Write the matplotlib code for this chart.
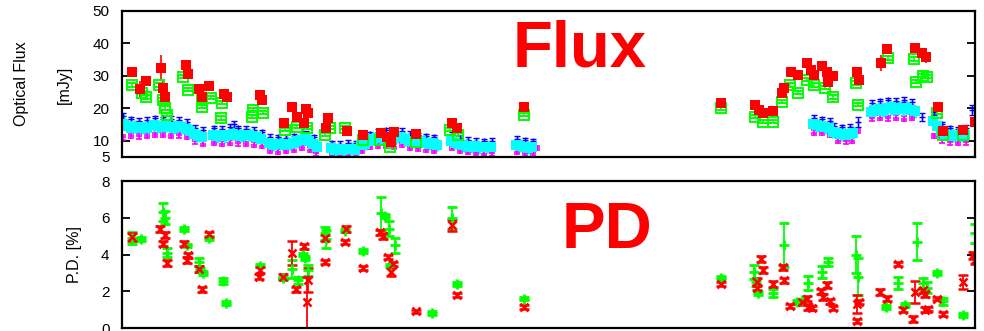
import matplotlib
matplotlib.use("Agg")
import matplotlib.pyplot as plt
import numpy as np

plt.rcParams['font.family'] = ['Liberation Sans', 'DejaVu Sans']

# time axis: days since start of campaign
# ---- optical flux [mJy] ----
rFluxT = [10, 18, 24, 39, 41, 43, 64, 66, 77, 80, 87, 102, 105, 138, 140, 162,
          170, 175, 182, 184, 186, 204, 206, 225, 241, 259, 265, 269, 272, 294,
          330, 335, 402, 599, 633, 637, 641, 651, 660, 662, 669, 676, 685, 689,
          692, 700, 705, 706, 711, 735, 737, 759, 765, 793, 800, 804, 816, 821,
          841, 853]
rFlux = [31.2, 26.0, 28.5, 32.5, 26.3, 23.5, 33.4, 30.6, 26.0, 23.5, 27.0, 24.5,
         23.5, 24.2, 22.6, 15.6, 20.5, 17.4, 15.6, 19.8, 18.6, 14.0, 17.0, 13.0,
         11.8, 12.4, 11.2, 9.7, 12.8, 12.2, 15.5, 14.0, 20.5, 21.7, 21.1, 19.5,
         18.6, 19.2, 24.8, 26.3, 31.2, 30.3, 34.0, 31.8, 30.3, 33.0, 31.2, 28.2,
         30.0, 31.2, 28.8, 34.0, 38.2, 38.6, 37.0, 35.8, 20.5, 13.1, 13.4, 15.9]
rFluxErr = [0.8, 2.5, 1.0, 4.0, 2.0, 0.8, 0.8, 0.8, 0.6, 0.6, 0.6, 0.6, 0.6, 0.6,
            0.6, 0.6, 0.6, 0.6, 0.6, 0.6, 0.6, 0.6, 0.6, 0.6, 0.6, 0.6, 0.6, 0.6,
            0.6, 0.6, 0.6, 0.6, 0.6, 0.6, 0.6, 0.6, 0.6, 0.6, 0.6, 0.6, 0.6, 0.6,
            0.6, 0.6, 0.6, 0.6, 0.6, 0.6, 0.6, 0.6, 0.6, 2.5, 0.6, 0.6, 0.6, 1.8,
            0.6, 0.6, 0.6, 0.6]

gFluxT = [10, 20, 24, 37, 41, 43, 45, 61, 66, 80, 80, 89, 100, 99, 130, 131, 141,
          163, 175, 185, 203, 208, 223, 241, 258, 268, 294, 328, 336, 402, 599,
          633, 641, 651, 660, 668, 676, 685, 692, 703, 711, 734, 736, 766, 792,
          794, 801, 805, 815, 821, 841]
gFlux = [27.2, 24.8, 23.5, 27.2, 22.6, 20.1, 18.0, 29.7, 25.7, 20.5, 22.7, 23.2,
         21.7, 17.0, 17.4, 19.5, 18.6, 13.4, 14.3, 14.0, 11.8, 14.0, 14.0, 10.3,
         10.3, 8.2, 9.7, 13.4, 11.8, 18.0, 20.1, 17.4, 15.9, 15.9, 22.0, 27.2,
         24.8, 28.8, 27.2, 26.3, 23.5, 27.8, 21.1, 35.5, 35.2, 28.2, 30.0, 29.7,
         18.6, 11.8, 11.8]

cyanT = [1, 5, 9, 13, 17, 21, 25, 32, 36, 40, 44, 48, 52, 56, 60, 64, 68, 72, 76,
         80, 91, 95, 99, 103, 107, 111, 115, 119, 123, 127, 131, 135, 139, 147,
         151, 155, 159, 163, 167, 171, 175, 179, 183, 187, 191, 195, 209, 213,
         217, 221, 225, 229, 233, 239, 243, 247, 251, 255, 259, 263, 267, 271,
         275, 279, 283, 287, 291, 295, 299, 303, 307, 311, 315, 329, 333, 337,
         341, 345, 349, 353, 357, 361, 365, 369, 394, 398, 402, 406, 410, 691,
         695, 699, 703, 707, 711, 715, 719, 723, 727, 731, 749, 753, 757, 761,
         765, 769, 773, 777, 781, 785, 789, 793, 811, 815, 819, 823, 827, 831,
         835, 839, 843]
cyanFlux = [15.2, 14.6, 14.0, 14.3, 13.8, 14.2, 13.9, 14.8, 14.5, 14.2, 14.6,
            14.3, 14.0, 14.4, 14.1, 13.6, 13.0, 12.0, 11.5, 11.2, 11.8, 11.4,
            11.6, 11.3, 11.7, 12.2, 11.9, 11.5, 11.6, 11.8, 11.4, 11.0, 10.6,
            9.2, 8.8, 8.9, 9.1, 8.7, 9.0, 9.4, 9.8, 10.3, 10.6, 10.0, 9.0, 8.2,
            7.6, 7.2, 7.4, 7.1, 7.3, 7.5, 7.2, 8.7, 9.0, 10.0, 10.6, 10.9, 10.7,
            11.0, 10.4, 10.8, 11.2, 11.0, 10.5, 10.0, 9.8, 9.5, 9.8, 9.3, 9.0,
            9.4, 8.8, 10.0, 9.3, 8.9, 8.6, 8.4, 8.1, 8.3, 8.0, 7.9, 8.2, 8.0,
            8.8, 8.4, 8.1, 7.8, 8.0, 15.0, 14.8, 14.5, 14.2, 14.0, 12.8, 12.3,
            12.0, 11.8, 12.2, 12.4, 18.8, 19.5, 19.8, 19.3, 20.0, 20.3, 19.6,
            20.1, 19.7, 20.2, 19.5, 19.0, 16.0, 14.5, 13.0, 12.2, 11.8, 11.5,
            11.4, 11.7, 11.9]

blueT = [1, 9, 17, 25, 33, 41, 49, 57, 65, 73, 81, 92, 100, 108, 112, 116, 124,
         132, 140, 148, 156, 164, 172, 180, 184, 192, 210, 218, 226, 234, 240,
         248, 256, 264, 272, 280, 288, 296, 304, 312, 330, 338, 346, 354, 362,
         370, 395, 403, 411, 692, 700, 708, 712, 720, 728, 736, 750, 758, 766,
         774, 782, 790, 800, 812, 820, 828, 836, 844, 850]
blueFlux = [17.6, 16.6, 16.2, 16.4, 16.9, 16.6, 16.8, 16.5, 15.9, 14.0, 13.4,
            13.8, 13.6, 14.2, 15.0, 13.8, 13.6, 13.4, 12.6, 11.2, 11.0, 10.9,
            11.4, 12.6, 12.1, 11.0, 9.2, 9.1, 9.4, 9.2, 10.6, 12.0, 12.8, 13.2,
            12.6, 13.0, 12.1, 11.6, 11.3, 11.1, 11.9, 10.8, 10.2, 10.0, 9.8, 9.9,
            10.6, 10.1, 9.8, 17.1, 16.6, 16.2, 14.6, 14.1, 14.2, 15.8, 21.6,
            22.2, 22.5, 22.3, 22.6, 21.9, 17.4, 18.0, 15.1, 13.8, 13.5, 13.9,
            19.5]
blueErr = [0.8, 0.8, 0.8, 0.8, 0.8, 0.8, 0.8, 0.8, 0.8, 0.8, 0.8, 0.8, 0.8, 0.8,
           1.0, 0.8, 0.8, 0.8, 0.8, 0.8, 0.8, 0.8, 0.8, 1.5, 0.8, 0.8, 0.8, 0.8,
           0.8, 0.8, 0.8, 0.8, 0.8, 0.8, 0.8, 0.8, 0.8, 0.8, 0.8, 0.8, 0.8, 0.8,
           0.8, 0.8, 0.8, 0.8, 0.8, 0.8, 0.8, 0.8, 0.8, 0.8, 0.8, 0.8, 0.8, 1.5,
           0.8, 0.8, 0.8, 0.8, 0.8, 0.8, 1.2, 0.8, 0.8, 0.8, 0.8, 0.8, 1.5]

magT = [1, 9, 17, 25, 33, 41, 49, 57, 65, 73, 81, 92, 100, 108, 116, 124, 132,
        140, 148, 156, 164, 172, 180, 188, 194, 210, 218, 226, 234, 240, 248,
        256, 264, 272, 280, 288, 296, 304, 312, 330, 338, 346, 354, 362, 370,
        395, 403, 411, 415, 692, 700, 708, 716, 724, 730, 736, 750, 758, 766,
        774, 782, 790, 812, 820, 828, 836, 844]
magFlux = [11.0, 11.5, 11.3, 11.5, 11.8, 11.7, 11.5, 11.6, 11.1, 9.8, 9.1, 9.3,
           9.1, 9.4, 9.2, 9.0, 8.8, 8.5, 6.8, 6.6, 6.8, 7.2, 7.8, 7.2, 6.1, 5.6,
           5.5, 5.6, 5.7, 6.8, 8.0, 8.5, 8.4, 8.2, 8.6, 7.8, 7.4, 7.2, 6.8, 7.8,
           6.8, 6.5, 6.2, 6.0, 6.1, 6.6, 6.3, 6.2, 7.8, 12.5, 12.3, 11.7, 10.0,
           9.8, 10.0, 13.0, 16.9, 17.1, 16.9, 17.1, 16.8, 17.0, 11.5, 10.1,
           9.5, 9.3, 9.5]

# ---- polarization degree [%] ----
gPdT = [10, 19, 41, 43, 45, 62, 65, 77, 78, 81, 87, 101, 104, 138, 161, 170, 176,
        181, 183, 186, 203, 204, 223, 241, 259, 263, 267, 273, 268, 330, 335,
        310, 402, 599, 632, 634, 636, 651, 662, 675, 680, 686, 700, 706, 734,
        736, 764, 776, 783, 795, 801, 805, 815, 821, 841, 853]
gPd = [4.9, 4.85, 6.3, 6.0, 4.1, 5.4, 4.5, 3.6, 3.15, 3.0, 4.9, 2.55, 1.35, 3.4,
       2.7, 3.2, 2.6, 4.0, 3.8, 3.15, 5.15, 4.85, 5.3, 4.2, 6.25, 6.1, 5.4, 4.5,
       3.4, 6.0, 2.4, 0.8, 1.6, 2.75, 3.05, 2.5, 1.9, 1.9, 4.5, 1.4, 1.5, 2.45,
       3.05, 3.6, 4.0, 2.8, 1.15, 2.45, 1.25, 4.7, 2.45, 2.2, 3.0, 1.45, 0.7,
       5.15]
gPdErr = [0.35, 0.1, 0.5, 0.35, 0.25, 0.1, 0.1, 0.2, 0.1, 0.1, 0.1, 0.15, 0.1,
          0.1, 0.1, 0.5, 0.2, 0.1, 0.1, 0.3, 0.35, 0.5, 0.1, 0.1, 0.9, 0.1, 0.4,
          0.4, 0.1, 0.6, 0.1, 0.1, 0.1, 0.1, 0.4, 0.2, 0.1, 0.2, 1.2, 0.1, 0.1,
          0.4, 0.3, 0.2, 1.0, 1.0, 0.1, 0.35, 0.1, 1.0, 0.3, 0.3, 0.1, 0.2, 0.1,
          0.5]

rPdT = [10, 38, 43, 41, 45, 62, 66, 65, 77, 80, 87, 137, 138, 161, 170, 174, 182,
        186, 185, 203, 203, 224, 223, 241, 258, 261, 266, 271, 269, 330, 335,
        294, 402, 599, 635, 639, 641, 635, 651, 661, 662, 668, 680, 685, 686,
        690, 699, 701, 705, 708, 711, 735, 735, 737, 758, 765, 776, 781, 791,
        793, 801, 803, 803, 806, 815, 821, 841, 851, 853]
rPd = [4.95, 5.4, 5.05, 4.6, 3.55, 4.6, 3.95, 3.7, 3.2, 2.1, 5.1, 2.8, 3.15, 2.8,
       4.1, 2.1, 4.45, 2.6, 1.4, 4.9, 3.6, 5.4, 4.7, 3.25, 5.2, 5.0, 3.85, 3.5,
       3.05, 5.6, 1.8, 0.9, 1.15, 2.4, 2.5, 3.75, 3.15, 2.2, 2.4, 3.3, 2.6, 1.2,
       1.4, 1.6, 1.15, 1.1, 2.0, 1.7, 2.35, 1.45, 1.1, 1.3, 0.4, 1.4, 1.95, 1.6,
       3.5, 1.0, 0.5, 1.95, 2.05, 1.85, 1.0, 1.05, 1.6, 0.75, 2.5, 3.95, 3.7]
rPdErr = [0.2, 0.15, 0.15, 0.15, 0.15, 0.15, 0.15, 0.15, 0.15, 0.15, 0.15, 0.15,
          0.15, 0.15, 0.65, 0.15, 0.15, 0.65, 1.4, 0.15, 0.1, 0.15, 0.1, 0.1,
          0.15, 0.15, 0.1, 0.1, 0.2, 0.3, 0.1, 0.1, 0.1, 0.1, 0.2, 0.15, 0.15,
          0.15, 0.15, 0.15, 0.15, 0.1, 0.15, 0.15, 0.15, 0.1, 0.15, 0.15, 0.15,
          0.15, 0.1, 0.5, 0.1, 0.1, 0.15, 0.15, 0.1, 0.15, 0.15, 0.6, 0.15,
          0.15, 0.15, 0.1, 0.1, 0.1, 0.4, 0.2, 0.2]

RED = '#ff0000'
GREEN = '#00ff00'
BLUE = '#0000ff'
CYAN = '#00ffff'
MAGENTA = '#ff00ff'


def styleAxes(ax, ylim, yticks):
    ax.set_xlim(0, 853)
    ax.set_ylim(*ylim)
    ax.set_yticks(yticks)
    for s in ax.spines.values():
        s.set_linewidth(1.6)
    ax.tick_params(axis='y', direction='in', length=6, width=1.3, left=True,
                   right=True, labelsize=11, pad=9)
    ax.tick_params(axis='x', bottom=False, labelbottom=False)


fig = plt.figure(figsize=(9.84, 3.31), dpi=100)

axF = fig.add_axes([0.124, 0.526, 0.867, 0.441])
axP = fig.add_axes([0.124, 0.009, 0.867, 0.444])

# flux panel: dense monitoring bands first, then the sparse ones on top
axF.errorbar(magT, magFlux, yerr=0.7, fmt='+', color=MAGENTA, ms=5, mew=1.2,
             elinewidth=1, capsize=2.5)
axF.errorbar(blueT, blueFlux, yerr=blueErr, fmt='+', color=BLUE, ms=4, mew=1,
             elinewidth=1, capsize=2.5)
axF.errorbar(cyanT, cyanFlux, yerr=2.0, fmt='s', color=CYAN, ms=6.5, mew=0,
             elinewidth=2, capsize=3)
axF.errorbar(gFluxT, gFlux, yerr=0.5, fmt='s', color=GREEN, mfc='none', ms=7,
             mew=1.4, elinewidth=1.2, capsize=3)
axF.errorbar(rFluxT, rFlux, yerr=rFluxErr, fmt='s', color=RED, ms=7.3, mew=0,
             elinewidth=1.2, capsize=3)
styleAxes(axF, (5, 50), [5, 10, 20, 30, 40, 50])

# polarization degree panel
axP.errorbar(gPdT, gPd, yerr=gPdErr, fmt='+', color=GREEN, ms=7, mew=2,
             elinewidth=1.3, capsize=3.5)
axP.errorbar(rPdT, rPd, yerr=rPdErr, fmt='x', color=RED, ms=6, mew=1.8,
             elinewidth=1.3, capsize=3.5)
styleAxes(axP, (0, 8), [0, 2, 4, 6, 8])

fig.text(0.022, 0.746, 'Optical Flux', rotation=90, ha='center', va='center',
         fontsize=11.5)
fig.text(0.065, 0.743, '[mJy]', rotation=90, ha='center', va='center',
         fontsize=11.5)
fig.text(0.076, 0.23, 'P.D. [%]', rotation=90, ha='center', va='center',
         fontsize=11.5)

fig.text(0.589, 0.798, 'Flux', color=RED, fontsize=47, fontweight='bold',
         ha='center', va='baseline')
fig.text(0.617, 0.251, 'PD', color=RED, fontsize=47, fontweight='bold',
         ha='center', va='baseline')

fig.savefig('out.png', dpi=100)
